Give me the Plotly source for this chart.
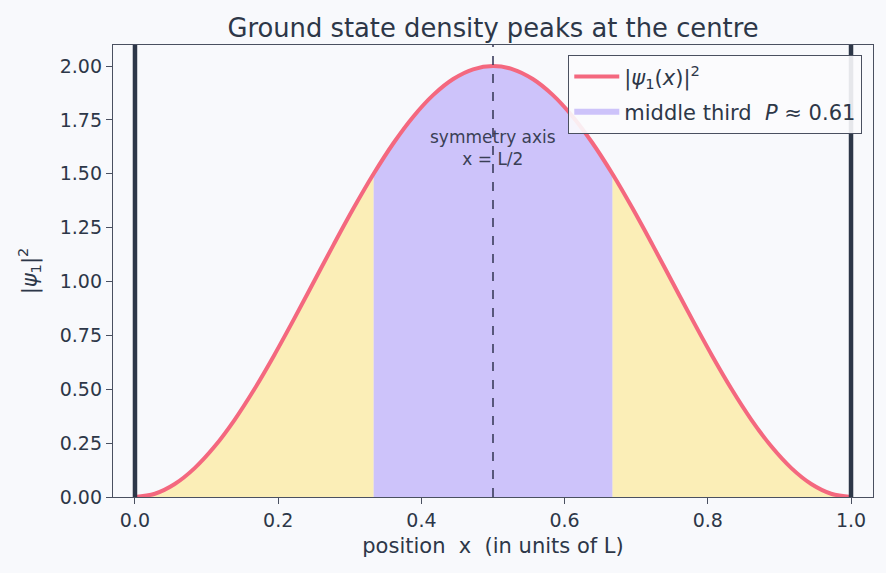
import numpy as np
import plotly.graph_objects as go

x_pos = np.linspace(0.0, 1.0, 37)
density = [0.0, 0.0152, 0.0603, 0.1340, 0.2340, 0.3572, 0.5, 0.6580, 0.8264,
           1.0, 1.1736, 1.3420, 1.5, 1.6428, 1.7660, 1.8660, 1.9397, 1.9848,
           2.0,
           1.9848, 1.9397, 1.8660, 1.7660, 1.6428, 1.5, 1.3420, 1.1736, 1.0,
           0.8264, 0.6580, 0.5, 0.3572, 0.2340, 0.1340, 0.0603, 0.0152, 0.0]
third_lo, third_hi = 12, 24          # indices of x = 1/3 and x = 2/3
walls = [0.0, 1.0]
sym_axis = 0.5
x_ticks = [0.0, 0.2, 0.4, 0.6, 0.8, 1.0]
y_ticks = [0.0, 0.25, 0.5, 0.75, 1.0, 1.25, 1.5, 1.75, 2.0]

FONT = "DejaVu Sans"
TXT = "#2d3748"
SPINE = "#4a5060"
BG = "#f8f9fc"
RED = "#f4687f"
YELLOW = "rgba(252,236,170,0.85)"
PURPLE = "rgba(200,188,250,0.9)"
NB = "\u00a0"

xs = list(x_pos)
fig = go.Figure()

# yellow outer regions
fig.add_trace(go.Scatter(x=xs[:third_lo + 1], y=density[:third_lo + 1], mode="none",
                         fill="tozeroy", fillcolor=YELLOW, line_shape="spline",
                         showlegend=False, hoverinfo="skip"))
fig.add_trace(go.Scatter(x=xs[third_hi:], y=density[third_hi:], mode="none",
                         fill="tozeroy", fillcolor=YELLOW, line_shape="spline",
                         showlegend=False, hoverinfo="skip"))
# middle third
fig.add_trace(go.Scatter(x=xs[third_lo:third_hi + 1], y=density[third_lo:third_hi + 1],
                         mode="none", fill="tozeroy", fillcolor=PURPLE, line_shape="spline",
                         name="middle third" + NB + NB + "<i>P</i>" + NB + "≈" + NB + "0.61",
                         legendrank=2, legendgroup="b"))
# density curve
fig.add_trace(go.Scatter(x=xs, y=density, mode="lines",
                         line=dict(color=RED, width=4, shape="spline"),
                         name="|<i>ψ</i><sub>1</sub>(<i>x</i>)|<sup>2</sup>",
                         legendrank=1, legendgroup="a"))

# infinite walls
for w in walls:
    fig.add_shape(type="line", x0=w, x1=w, y0=0, y1=1, xref="x", yref="paper",
                  line=dict(color="#2d3748", width=4.5), layer="above")
# symmetry axis
fig.add_shape(type="line", x0=sym_axis, x1=sym_axis, y0=0, y1=1, xref="x", yref="paper",
              line=dict(color="#3b3d5c", width=1.6, dash="dash"), layer="above")
fig.add_annotation(x=sym_axis, y=1.62, xref="x", yref="y",
                   text="symmetry axis<br>x = L/2", showarrow=False,
                   font=dict(family=FONT, size=17, color="#3a3f55"), align="center")

axis_common = dict(showline=True, linecolor=SPINE, linewidth=1.3, mirror=True,
                   ticks="outside", ticklen=6, tickwidth=1.2, tickcolor=SPINE,
                   showgrid=False, zeroline=False,
                   tickfont=dict(family=FONT, size=19, color=TXT))

fig.update_layout(
    width=886, height=573,
    margin=dict(l=113, r=13, t=45, b=76),
    paper_bgcolor=BG, plot_bgcolor=BG,
    title=dict(text="Ground state density peaks at the centre",
               x=0.5, xref="paper", xanchor="center",
               y=1, yref="paper", yanchor="bottom", pad=dict(b=8),
               font=dict(family=FONT, size=25.8, color=TXT)),
    xaxis=dict(range=[-0.0307, 1.0307], tickvals=x_ticks, tickformat=".1f",
               title=dict(text="position" + NB + NB + "x" + NB + NB + "(in units of L)", standoff=8,
                          font=dict(family=FONT, size=21, color=TXT)),
               **axis_common),
    yaxis=dict(range=[0, 2.0975], tickvals=y_ticks, tickformat=".2f",
               title=dict(text="|<i>ψ</i><sub>1</sub>|<sup>2</sup>", standoff=16,
                          font=dict(family=FONT, size=21, color=TXT)),
               **axis_common),
    legend=dict(x=0.9855, y=0.978, xanchor="right", yanchor="top",
                bgcolor="rgba(251,251,253,0.9)", bordercolor=SPINE, borderwidth=1.3,
                traceorder="grouped", tracegroupgap=5, itemwidth=45,
                font=dict(family=FONT, size=21, color=TXT)),
    showlegend=True,
)

fig.write_html("out.html")
